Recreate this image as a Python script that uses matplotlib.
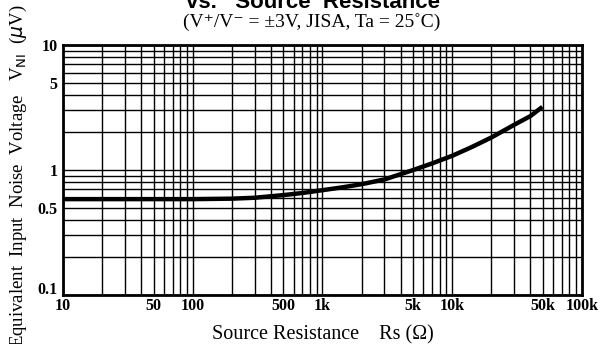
"""
Equivalent input noise voltage vs. source resistance (datasheet style, log-log).
"""

import matplotlib.pyplot as plt
from matplotlib.ticker import FixedLocator, NullFormatter
from matplotlib.transforms import ScaledTranslation

# curve
rs_ohm = [10, 30, 100, 200, 300, 500, 700, 1000, 1400, 2000, 3000, 5000,
          7000, 10000, 14000, 20000, 30000, 40000, 49500]
vni_uv = [0.585, 0.585, 0.585, 0.59, 0.60, 0.63, 0.655, 0.69, 0.725, 0.77, 0.84, 1.0,
          1.13, 1.3, 1.52, 1.82, 2.3, 2.7, 3.2]

x_ticks = [10, 50, 100, 500, 1e3, 5e3, 1e4, 5e4, 1e5]
x_labels = ["10", "50", "100", "500", "1k", "5k", "10k", "50k", "100k"]
y_ticks = [0.1, 0.5, 1, 5, 10]
y_labels = ["0.1", "0.5", "1", "5", "10"]

serif = ["Liberation Serif", "DejaVu Serif"]

fig = plt.figure(figsize=(6.09, 3.44), dpi=100)
ax = fig.add_axes([0.1034, 0.1424, 0.8523, 0.7267])

ax.set_xscale("log")
ax.set_yscale("log")
ax.set_xlim(10, 1e5)
ax.set_ylim(0.1, 10)

# full log grid: every 1..9 of each decade
x_grid = [m * 10 ** e for e in range(1, 5) for m in range(1, 10)] + [1e5]
y_grid = [m * 10 ** e for e in range(-1, 1) for m in range(1, 10)] + [10]
ax.xaxis.set_minor_locator(FixedLocator(x_grid))
ax.yaxis.set_minor_locator(FixedLocator(y_grid))
ax.xaxis.set_minor_formatter(NullFormatter())
ax.yaxis.set_minor_formatter(NullFormatter())
ax.grid(True, which="both", color="black", linewidth=1.0)
ax.tick_params(which="both", length=0)

ax.set_xticks(x_ticks)
ax.set_xticklabels(x_labels, fontfamily=serif, fontweight="bold", fontsize=11.5)
ax.set_yticks(y_ticks)
ax.set_yticklabels(y_labels, fontfamily=serif, fontweight="bold", fontsize=11.5)
ax.tick_params(axis="x", pad=2)
ax.tick_params(axis="y", pad=4)

# "0.1" sits a little above the corner so it clears the "10" below it
lbl = ax.get_yticklabels()[0]
lbl.set_transform(lbl.get_transform() + ScaledTranslation(0, 5 / 72, fig.dpi_scale_trans))

for s in ax.spines.values():
    s.set_linewidth(2.0)
    s.set_color("black")

ax.plot(rs_ohm, vni_uv, color="black", linewidth=3.2, solid_capstyle="butt", zorder=5)

fig.text(0.53, 0.028, "Source Resistance    Rs (\u03a9)", ha="center", va="center",
         fontfamily=serif, fontsize=14.5)
fig.text(0.03, 0.49, "Equivalent  Input  Noise  Voltage   V$_{\\rm NI}$  ($\\mu$V)",
         rotation=90, ha="center", va="center", fontfamily=serif, fontsize=13.5)

fig.text(0.514, 0.977, "vs.   Source  Resistance", ha="center", va="baseline",
         fontfamily=["Liberation Sans", "DejaVu Sans"], fontweight="bold", fontsize=16)
fig.text(0.511, 0.936, "(V\u207a/V\u207b = \u00b13V, JISA, Ta = 25\u02daC)", ha="center", va="center",
         fontfamily=serif, fontsize=14)

fig.savefig("out.png", dpi=100)
